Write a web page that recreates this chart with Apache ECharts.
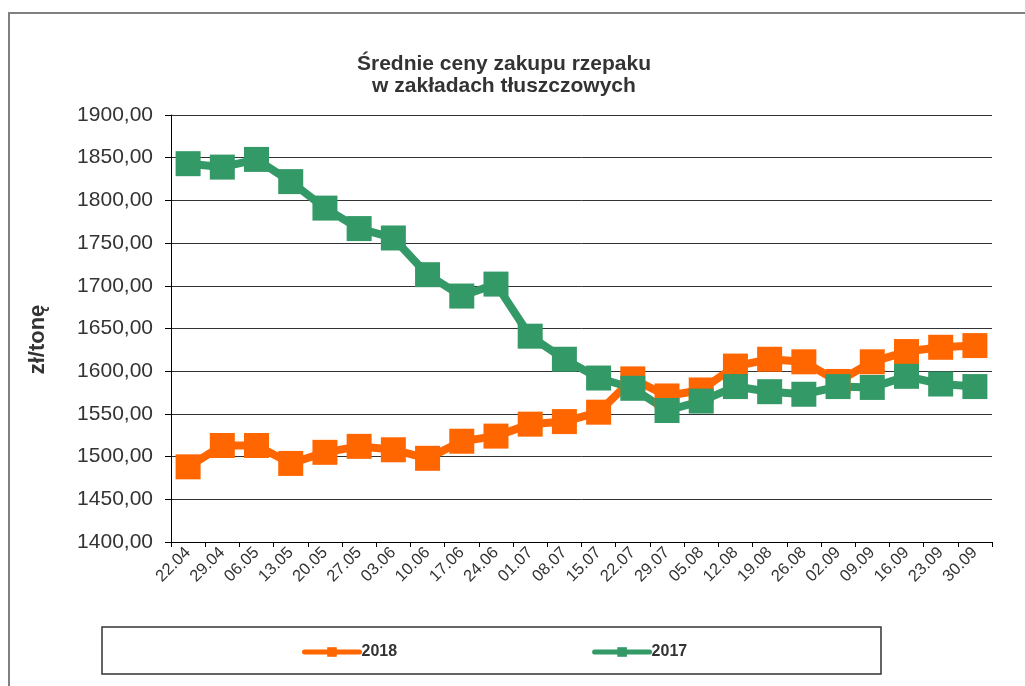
<!DOCTYPE html>
<html>
<head>
<meta charset="utf-8">
<script src="https://cdn.jsdelivr.net/npm/echarts@6/dist/echarts.min.js"></script>
<style>
html,body{margin:0;padding:0;background:#fff;}
#chart{width:1025px;height:686px;}
</style>
</head>
<body>
<div id="chart"></div>
<script>
const categories = ['22.04','29.04','06.05','13.05','20.05','27.05','03.06','10.06','17.06','24.06','01.07','08.07','15.07','22.07','29.07','05.08','12.08','19.08','26.08','02.09','09.09','16.09','23.09','30.09'];
const values2018 = [1488, 1513, 1513, 1492, 1505, 1512, 1508, 1498, 1518, 1524, 1538, 1541, 1552, 1591, 1571, 1578, 1606, 1614, 1611, 1588, 1611, 1623, 1628, 1630];
const values2017 = [1843, 1839, 1848, 1822, 1791, 1767, 1756, 1713, 1688, 1702, 1641, 1614, 1592, 1580, 1554, 1565, 1582, 1576, 1573, 1582, 1581, 1594, 1585, 1582];
const seriesNames = ['2018', '2017'];
const titleText = 'Średnie ceny zakupu rzepaku\nw zakładach tłuszczowych';
const yAxisName = 'zł/tonę';

const FONT = "'Liberation Sans', Arial, sans-serif";
const chart = echarts.init(document.getElementById('chart'), null, {renderer: 'canvas'});
chart.setOption({
  backgroundColor: '#fff',
  animation: false,
  title: {
    text: titleText,
    left: 504,
    top: 53,
    textAlign: 'center',
    padding: 0,
    textStyle: {fontFamily: FONT, fontSize: 21, fontWeight: 'bold', color: '#333', lineHeight: 22}
  },
  graphic: [
    {type: 'rect', shape: {x: 9, y: 13, width: 1200, height: 1000}, style: {fill: 'none', stroke: '#808080', lineWidth: 2}, silent: true},
    {type: 'rect', shape: {x: 102, y: 627, width: 779, height: 47}, style: {fill: 'none', stroke: '#333', lineWidth: 1.5}, silent: true}
  ],
  legend: {
    left: 302,
    top: 644,
    itemWidth: 55,
    itemHeight: 12,
    itemGap: 195,
    padding: 0,
    lineStyle: {width: 5, cap: 'round'},
    textStyle: {fontFamily: FONT, fontSize: 16, fontWeight: 'bold', color: '#333', padding: [0,0,0,-3]},
    data: seriesNames
  },
  grid: {left: 171, right: 33, top: 115, bottom: 144},
  xAxis: {
    type: 'category',
    data: categories,
    boundaryGap: true,
    axisLine: {lineStyle: {color: '#000', width: 1}},
    axisTick: {show: true, length: 5, alignWithLabel: false, lineStyle: {color: '#000'}},
    axisLabel: {interval: 0, rotate: 45, fontFamily: FONT, fontSize: 16.5, color: '#333', margin: 8}
  },
  yAxis: {
    type: 'value',
    min: 1400,
    max: 1900,
    interval: 50,
    name: yAxisName,
    nameLocation: 'middle',
    nameRotate: 90,
    nameGap: 122,
    nameTextStyle: {fontFamily: FONT, fontSize: 22, fontWeight: 'bold', color: '#333', padding: [0, 22, 0, 0]},
    axisLine: {show: true, lineStyle: {color: '#000', width: 1}},
    axisTick: {show: true, length: 6, lineStyle: {color: '#000'}},
    axisLabel: {fontFamily: FONT, fontSize: 21, color: '#333', margin: 18,
      formatter: v => v.toFixed(2).replace('.', ',')},
    splitLine: {show: true, lineStyle: {color: '#333', width: 1}}
  },
  series: [
    {
      name: seriesNames[0], type: 'line', data: values2018,
      symbol: 'rect', symbolSize: 25,
      lineStyle: {color: '#FF6600', width: 8},
      itemStyle: {color: '#FF6600'}
    },
    {
      name: seriesNames[1], type: 'line', data: values2017,
      symbol: 'rect', symbolSize: 25,
      lineStyle: {color: '#339966', width: 8},
      itemStyle: {color: '#339966'}
    }
  ]
});
</script>
</body>
</html>
